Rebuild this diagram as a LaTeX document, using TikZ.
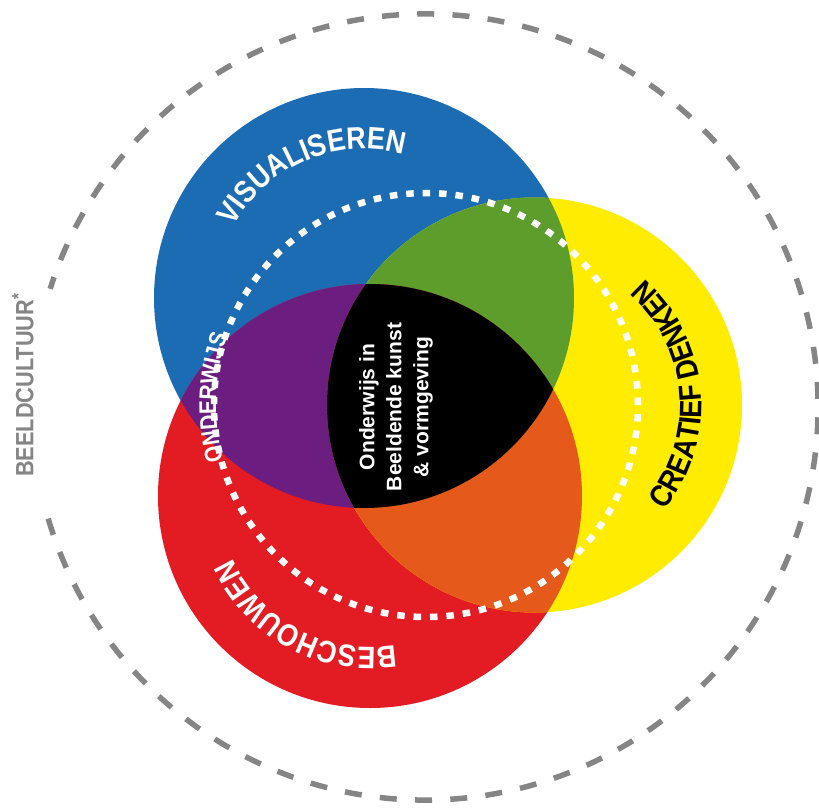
\documentclass[tikz,border=0pt]{standalone}
\usepackage{fontspec}
\setmainfont{Liberation Sans}
\newfontfamily\ringfam{Liberation Sans}[FakeStretch=0.87]
\usetikzlibrary{decorations.text}
\definecolor{visblue}{HTML}{1C6CB4}
\definecolor{besred}{HTML}{E31B23}
\definecolor{creyellow}{HTML}{FFEC00}
\definecolor{mixgreen}{HTML}{5C9D2C}
\definecolor{mixpurple}{HTML}{6B1E80}
\definecolor{mixorange}{HTML}{E5591A}
\definecolor{culgray}{HTML}{858585}
\newcommand\ringfont{\ringfam\bfseries\fontsize{31}{34}\selectfont}
\newcommand\smallring{\ringfam\bfseries\fontsize{24}{28}\selectfont}

\begin{document}
\begin{tikzpicture}[x=1pt,y=1pt]
    \tikzset{disc/.style = {fill=#1}}
    \tikzset{dots/.style = {draw=white, line width=6.5pt, dash pattern=on 7.5pt off 8.945pt}}
    \tikzset{culture/.style = {draw=culgray, line width=5.5pt, dash pattern=on 17pt off 18.3pt}}
    \useasboundingbox (-426,-402) rectangle (393,405);

    % centres
    \coordinate (vis) at (-62,107);
    \coordinate (bes) at (-56,-91);
    \coordinate (cre) at (108.5,0);
    \coordinate (ond) at (0,0);
    \coordinate (cul) at (-1,-2);

    % circles
    \fill[disc=visblue] (vis) circle (210);
    \fill[disc=besred] (bes) circle (212);
    \fill[disc=creyellow] (cre) circle (207.5);

    % overlaps
    \begin{scope}
        \clip (vis) circle (210);
        \fill[disc=mixgreen] (cre) circle (207.5);
        \fill[disc=mixpurple] (bes) circle (212);
    \end{scope}
    \begin{scope}
        \clip (bes) circle (212);
        \fill[disc=mixorange] (cre) circle (207.5);
    \end{scope}
    \begin{scope}
        \clip (vis) circle (210);
        \clip (bes) circle (212);
        \fill[disc=black] (cre) circle (207.5);
    \end{scope}

    % rings
    \draw[dots] (ond) circle (212);
    \draw[culture] (cul) ++(196.5:393) arc[start angle=196.5, end angle=522.5, radius=393];

    % labels
    \path[decorate, decoration={text along path, text align=center, text color=white,
        text={|\ringfont|VISUALISEREN}}]
        (vis) ++(163:149) arc[start angle=163, end angle=63, radius=149];
    \path[decorate, decoration={text along path, text align=center, text color=black,
        text={|\ringfont|CREATIEF DENKEN}}]
        (cre) ++(-55:167) arc[start angle=-55, end angle=65, radius=167];
    \path[decorate, decoration={text along path, text align=center, text color=white,
        text={|\ringfont|BESCHOUWEN}}]
        (bes) ++(-60:151) arc[start angle=-60, end angle=-176, radius=151];
    \path[decorate, decoration={text along path, text align=center, text color=white,
        text={|\smallring|ONDERWIJS}}]
        (ond) ++(215:210) arc[start angle=215, end angle=141, radius=210];

    \node[rotate=90, text=white, align=center, font=\bfseries\fontsize{21}{27}\selectfont] (core) at (-30,-2)
        {Onderwijs in\\Beeldende kunst\\\& vormgeving};
    \node[rotate=90, text=culgray, font=\ringfam\bfseries\fontsize{25}{28}\selectfont] (beeld) at (-403,20)
        {BEELDCULTUUR\textsuperscript{*}};
\end{tikzpicture}
\end{document}
